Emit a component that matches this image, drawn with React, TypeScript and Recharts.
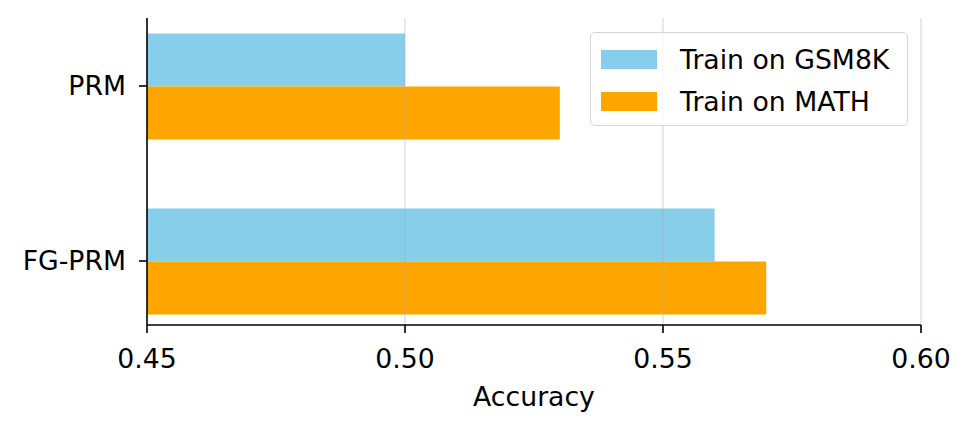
import { BarChart, Bar, XAxis, YAxis, ReferenceLine } from 'recharts';

const categories = ['PRM', 'FG-PRM'];
const gsm8kAcc = [0.5, 0.56];
const mathAcc = [0.53, 0.57];
const xTicks = [0.45, 0.5, 0.55, 0.6];
const seriesNames = ['Train on GSM8K', 'Train on MATH'];
const seriesColors = ['#87CEEB', '#FFA500'];

const chartData = categories.map((name, i) => ({
  name,
  gsm8k: gsm8kAcc[i],
  math: mathAcc[i],
}));

const FONT = 'DejaVu Sans, sans-serif';
const FS = 26.7;

// matplotlib-style legend box, drawn over the plot
function LegendBox() {
  return (
    <div
      style={{
        position: 'absolute',
        left: 590,
        top: 32,
        width: 318,
        height: 94,
        boxSizing: 'border-box',
        border: '1.5px solid #d6d6d6',
        borderRadius: 5,
        background: 'rgba(255,255,255,0.8)',
        fontFamily: FONT,
        fontSize: FS,
        color: '#000',
        paddingTop: 5,
      }}
    >
      {seriesNames.map((s, i) => (
        <div key={s} style={{ display: 'flex', alignItems: 'center', height: 42, whiteSpace: 'nowrap' }}>
          <span
            style={{
              display: 'inline-block',
              width: 56,
              height: 19,
              marginLeft: 10,
              marginRight: 23,
              background: seriesColors[i],
            }}
          />
          <span>{s}</span>
        </div>
      ))}
    </div>
  );
}

export default function App() {
  return (
    <div style={{ position: 'absolute', left: 0, top: 0, width: 972, height: 434, background: '#fff' }}>
      <BarChart
        width={972}
        height={434}
        data={chartData}
        layout="vertical"
        margin={{ top: 18, right: 51, bottom: 0, left: 0 }}
        barCategoryGap="20%"
        barGap={0}
      >
        <XAxis
          type="number"
          domain={[0.45, 0.6]}
          ticks={xTicks}
          allowDataOverflow
          tickFormatter={(v: number) => v.toFixed(2)}
          height={109}
          axisLine={{ stroke: '#000', strokeWidth: 1.6 }}
          tickLine={{ stroke: '#000', strokeWidth: 1.6 }}
          tickSize={8}
          tickMargin={16}
          tick={{ fill: '#000', fontSize: FS, fontFamily: FONT }}
          label={{ value: 'Accuracy', position: 'insideBottom', offset: 28, fill: '#000', fontSize: FS, fontFamily: FONT }}
        />
        <YAxis
          type="category"
          dataKey="name"
          width={147}
          padding={{ top: -19.5, bottom: -23.5 }}
          axisLine={{ stroke: '#000', strokeWidth: 1.6 }}
          tickLine={{ stroke: '#000', strokeWidth: 1.6 }}
          tickSize={8}
          tickMargin={13}
          tick={{ fill: '#000', fontSize: FS, fontFamily: FONT }}
        />
        <Bar dataKey="gsm8k" name={seriesNames[0]} fill={seriesColors[0]} isAnimationActive={false} />
        <Bar dataKey="math" name={seriesNames[1]} fill={seriesColors[1]} isAnimationActive={false} />
        {xTicks.slice(1).map((t) => (
          <ReferenceLine key={t} x={t} stroke="#b0b0b0" strokeOpacity={0.35} strokeWidth={1.6} />
        ))}
      </BarChart>
      <LegendBox />
    </div>
  );
}
